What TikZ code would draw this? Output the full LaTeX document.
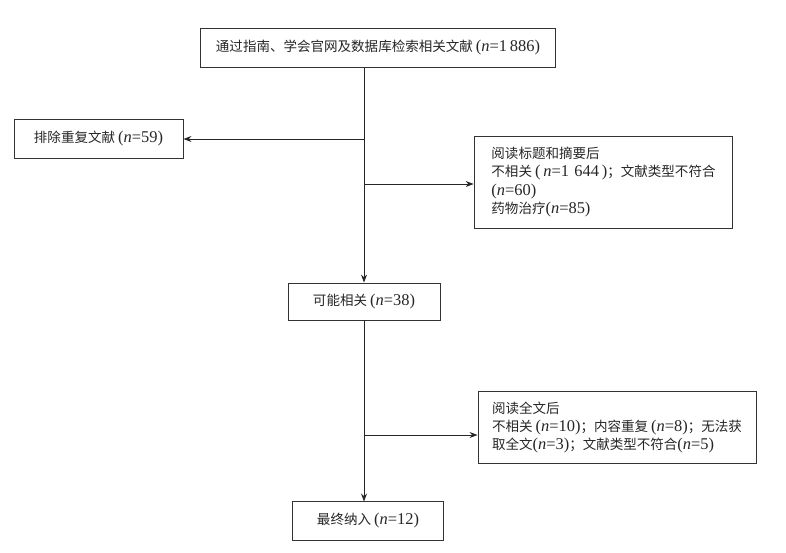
\documentclass[tikz,border=0pt]{standalone}
\usepackage{fontspec}
\setmainfont{Liberation Serif}
\newfontfamily\cjk{Noto Sans CJK SC}
\usetikzlibrary{arrows.meta}

% count in Latin serif inside the Chinese text
\newcommand{\nval}[1]{{\rmfamily\fontsize{12.4}{13.6}\selectfont(\textit{n}=#1)}}

\begin{document}
\begin{tikzpicture}[x=0.0265cm, y=-0.0265cm,
  box/.style={draw=black!80, line width=0.7pt, align=left, inner sep=0pt,
    text=black!85, font=\cjk\fontsize{10.2}{13.8}\selectfont},
  arr/.style={-{Stealth[length=6pt, width=4.5pt]}, line width=0.6pt, draw=black!85}]

\useasboundingbox (0,0) rectangle (786,552);

% ============================================================
% Boxes
% ============================================================
\node[box, minimum width=9.43cm, minimum height=1.01cm]
  (src) at (378,48) {通过指南、学会官网及数据库检索相关文献 \nval{1\,886}};

\node[box, minimum width=4.48cm, minimum height=1.01cm]
  (dup) at (98.5,139) {排除重复文献 \nval{59}};

\node[box, minimum width=6.86cm, minimum height=2.44cm]
  (scr) at (603.5,182) {阅读标题和摘要后\\
  不相关 {\rmfamily\fontsize{12.4}{13.6}\selectfont(\,\textit{n}=1\,\,644\,)}；文献类型不符合\\
  \nval{60}\\
  药物治疗\nval{85}};

\node[box, minimum width=4.03cm, minimum height=0.98cm]
  (ok) at (364,301.5) {可能相关 \nval{38}};

\node[box, minimum width=7.37cm, minimum height=1.93cm]
  (ft) at (617,427.5) {阅读全文后\\
  不相关 \nval{10}；内容重复 \nval{8}；无法获\\
  取全文\nval{3}；文献类型不符合\nval{5}};

\node[box, minimum width=3.98cm, minimum height=1.01cm]
  (fin) at (368,521) {最终纳入 \nval{12}};

% ============================================================
% Connectors
% ============================================================
\coordinate (b1) at (364,184);
\coordinate (b2) at (364,435);

\draw[arr] (ok.north |- src.south) -- (ok.north);
\draw[arr] (ok.north |- dup.east) -- (dup.east);
\draw[arr] (b1) -- (b1 -| scr.west);

\draw[arr] (ok.south) -- (ok.south |- fin.north);
\draw[arr] (b2) -- (b2 -| ft.west);

\end{tikzpicture}
\end{document}
